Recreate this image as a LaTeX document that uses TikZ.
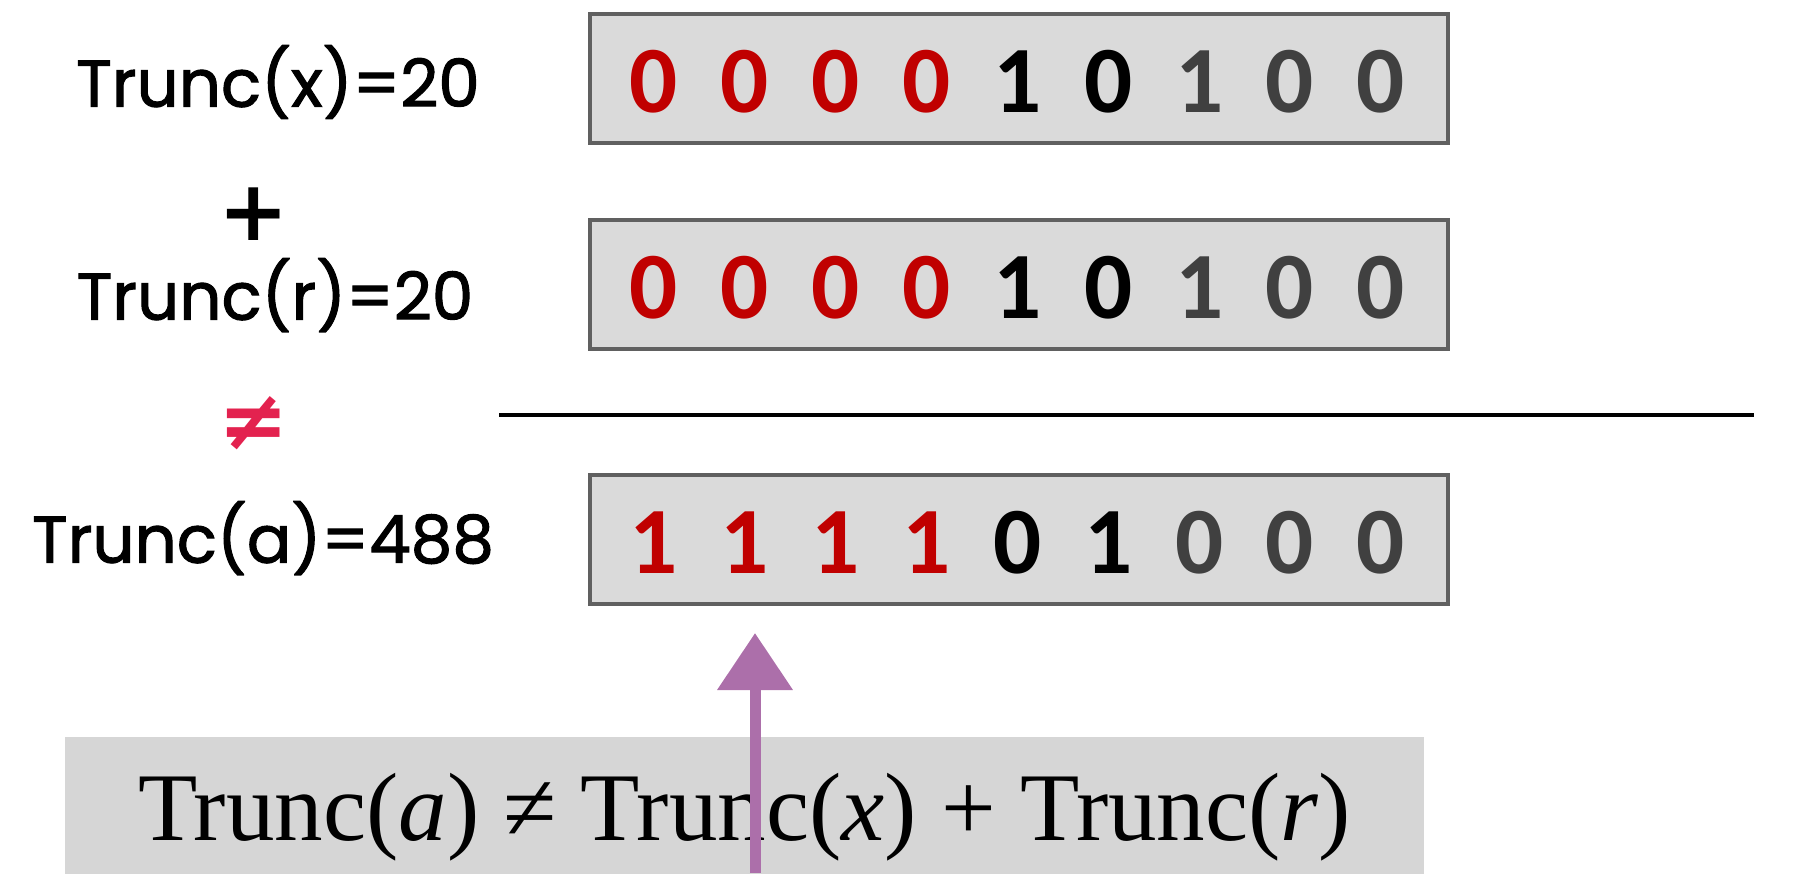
\documentclass[tikz,border=0pt]{standalone}
\usepackage{fontspec}
\setmainfont{Liberation Serif}
\newfontfamily\labelfont[FakeBold=1.6]{Poppins}
\newfontfamily\symfont{DejaVu Sans}
\newfontfamily\bitfont{Carlito}
\usetikzlibrary{arrows.meta}

\definecolor{bitred}{HTML}{C00000}
\definecolor{bitgray}{HTML}{404040}
\definecolor{boxfill}{HTML}{DADADA}
\definecolor{boxline}{HTML}{606060}
\definecolor{neqred}{HTML}{E3224F}
\definecolor{chalkpurple}{HTML}{AC6FAA}
\definecolor{eqfill}{HTML}{D6D6D6}

\tikzset{
  bitbox/.style={draw=boxline, line width=3.5pt, fill=boxfill,
    minimum width=858pt, minimum height=129pt, inner sep=0pt},
  bit/.style={inner sep=0pt, font=\bitfont\bfseries\fontsize{95}{95}\selectfont},
  lbl/.style={inner sep=0pt, font=\labelfont\fontsize{66}{66}\selectfont},
  sym/.style={inner sep=0pt, font=\symfont\bfseries\fontsize{84}{84}\selectfont},
  eqbox/.style={fill=eqfill, minimum width=1359pt, minimum height=137pt,
    inner sep=0pt},
  eqtext/.style={inner sep=0pt, font=\fontsize{97}{97}\selectfont},
  rule/.style={line width=4pt},
  chalk/.style={draw=chalkpurple, line width=11pt,
    -{Triangle[width=73pt,length=57pt]}}
}

\begin{document}
\begin{tikzpicture}[x=1pt,y=-1pt]
\useasboundingbox (0,0) rectangle (1794,873);

% left-hand labels
\node[lbl] (lx) at (278,82) {Trunc(x)=20};
\node[sym] (plus) at (254,214) {+};
\node[lbl] (lr) at (275,295) {Trunc(r)=20};
\node[sym, text=neqred] (ne) at (254,423) {≠};
\node[lbl] (la) at (263,538) {Trunc(a)=488};

% bit registers
\node[bitbox] (bx) at (1019,78.5) {};
\node[bitbox] (br) at (1019,284.5) {};
\node[bitbox] (ba) at (1019,539.5) {};

\foreach \reg/\bits in {bx/{0,0,0,0,1,0,1,0,0}, br/{0,0,0,0,1,0,1,0,0}, ba/{1,1,1,1,0,1,0,0,0}}{
  \foreach \b [count=\i from 0] in \bits {
    \ifnum\i<4 \def\bc{bitred}\else\ifnum\i<6 \def\bc{black}\else\def\bc{bitgray}\fi\fi
    \node[bit, text=\bc] (\reg-\i) at ([yshift=-3pt,xshift={-365pt+90.85pt*\i}]\reg.center) {\b};
  }
}

% sum rule
\coordinate (ruleL) at (499,415);
\coordinate (ruleR) at (1754,415);
\draw[rule] (ruleL) -- (ruleR);

% summary formula
\node[eqbox] (eq) at (744.5,805) {};
\node[eqtext] (eqt) at ([yshift=-12pt]eq.center) {Trunc(\textit{a}) ≠ Trunc(\textit{x}) + Trunc(\textit{r})};

% pointer to the overflowing bits
\coordinate (foot) at (755,873);
\coordinate (tip) at (755,633);
\draw[chalk] (foot) -- (tip);
\end{tikzpicture}
\end{document}
